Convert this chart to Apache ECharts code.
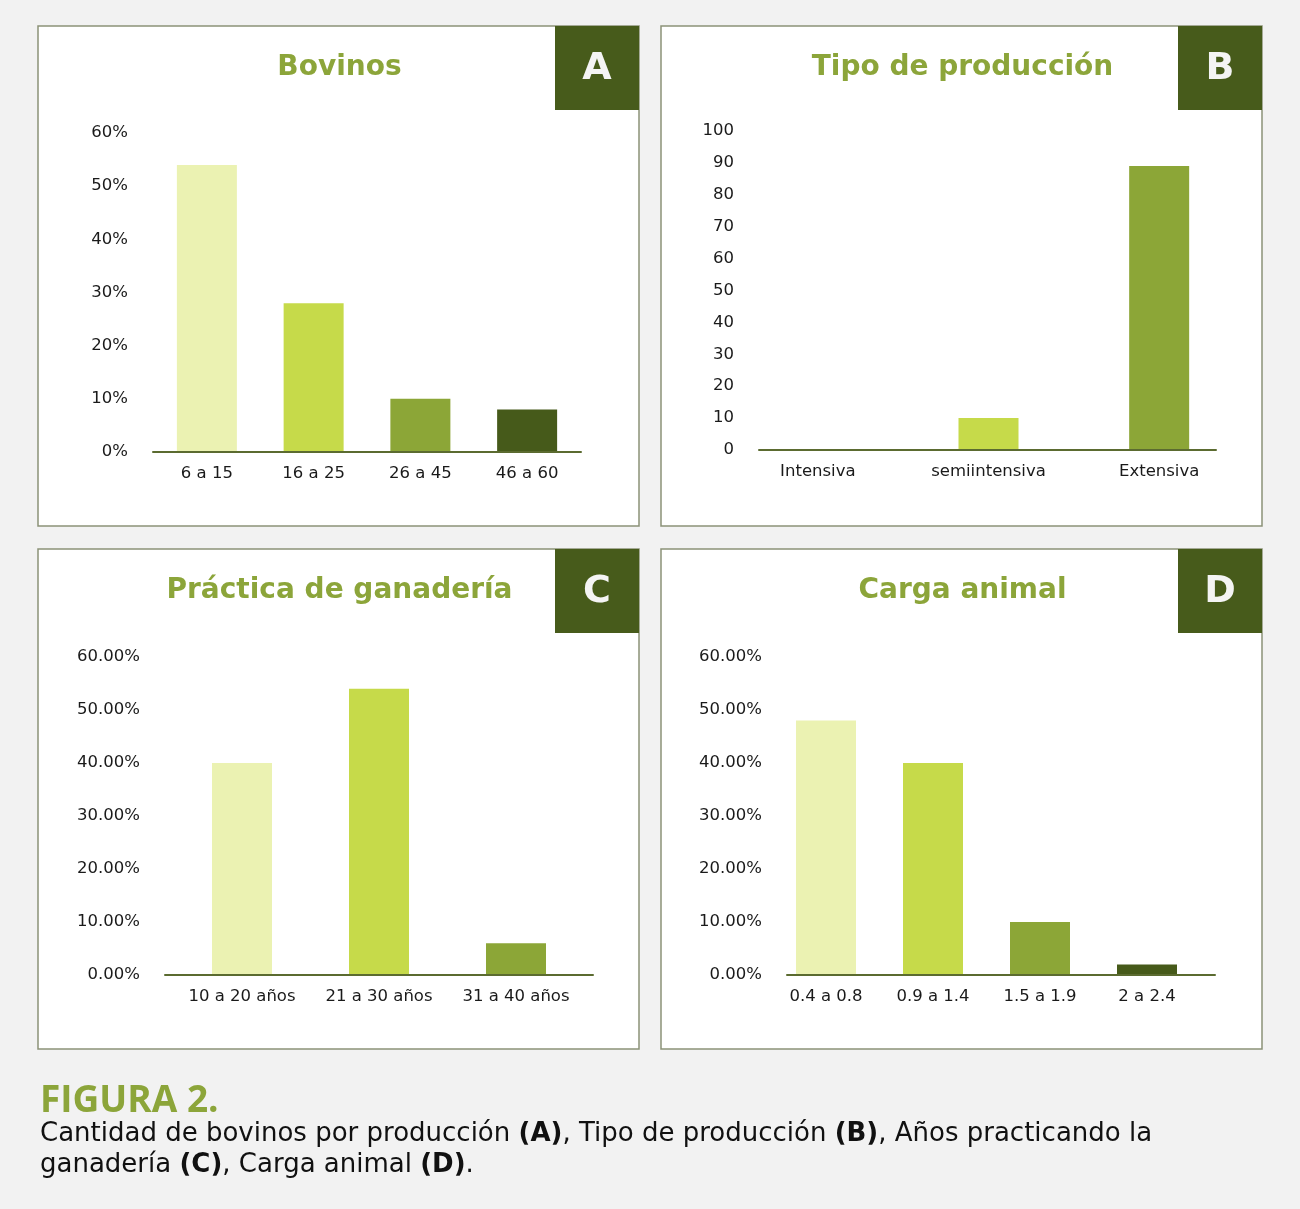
<!DOCTYPE html>
<html>
<head>
<meta charset="utf-8">
<script src="https://cdn.jsdelivr.net/npm/echarts@6/dist/echarts.min.js"></script>
<style>
  html, body { margin: 0; padding: 0; background: #f2f2f2; }
  #main { width: 1300px; height: 1209px; }
</style>
</head>
<body>
<div id="main"></div>
<script>
// datos
var bovCats = ['6 a 15', '16 a 25', '26 a 45', '46 a 60'];
var bovVals = [54, 28, 10, 8];
var tipoCats = ['Intensiva', 'semiintensiva', 'Extensiva'];
var tipoVals = [0, 10, 89];
var pracCats = ['10 a 20 años', '21 a 30 años', '31 a 40 años'];
var pracVals = [40, 54, 6];
var cargaCats = ['0.4 a 0.8', '0.9 a 1.4', '1.5 a 1.9', '2 a 2.4'];
var cargaVals = [48, 40, 10, 2];

var titles = ['Bovinos', 'Tipo de producción', 'Práctica de ganadería', 'Carga animal'];
var letters = ['A', 'B', 'C', 'D'];

var barColors = ['#ebf2b2', '#c6da4a', '#8ca637', '#465a1a'];
var titleColor = '#8ca53a';
var badgeColor = '#475b1b';
var font = '"DejaVu Sans", sans-serif';

var chart = echarts.init(document.getElementById('main'));

var grid = [], xAxis = [], yAxis = [], series = [], title = [], graphic = [];

// paneles: x, y de la esquina superior izquierda
var panels = [[38, 26], [661, 26], [38, 549], [661, 549]];
var PW = 601, PH = 500;

panels.forEach(function (p, i) {
    graphic.push({
        type: 'rect', shape: { x: p[0], y: p[1], width: PW, height: PH },
        style: { fill: '#fff', stroke: '#8c9278', lineWidth: 1.5 }, z: 0
    });
    graphic.push({
        type: 'rect', shape: { x: p[0] + PW - 84, y: p[1], width: 84, height: 84 },
        style: { fill: badgeColor }, z: 1
    });
    graphic.push({
        type: 'text', x: p[0] + PW - 42, y: p[1] + 43,
        style: {
            text: letters[i], fill: '#f4f4f4', font: 'bold 38px ' + font,
            textAlign: 'center', textVerticalAlign: 'middle'
        }, z: 2
    });
    title.push({
        text: titles[i], left: p[0] + PW / 2 - 4, top: p[1] + 23, textAlign: 'center',
        textStyle: { color: titleColor, fontSize: 28, fontWeight: 'bold', fontFamily: font }
    });
});

/**
 * agrega un gráfico de barras: un grid para el eje (línea y etiquetas y),
 * otro para las barras y sus categorías
 */
function addChart(cats, vals, frame, bars, top, height, max, interval, fmt) {
    var g = grid.length;
    grid.push({ left: frame[0], width: frame[1], top: top, height: height, containLabel: false });
    grid.push({ left: bars[0], width: bars[1], top: top, height: height, containLabel: false });
    xAxis.push({
        gridIndex: g, type: 'category', data: cats, z: 5,
        axisLine: { show: true, lineStyle: { color: '#5b6b30', width: 2 } },
        axisTick: { show: false }, axisLabel: { show: false }, splitLine: { show: false }
    });
    xAxis.push({
        gridIndex: g + 1, type: 'category', data: cats,
        axisLine: { show: false }, axisTick: { show: false }, splitLine: { show: false },
        axisLabel: { color: '#1a1a1a', fontSize: 16.5, fontFamily: font, margin: 13, interval: 0 }
    });
    yAxis.push({
        gridIndex: g, type: 'value', min: 0, max: max, interval: interval,
        axisLine: { show: false }, axisTick: { show: false }, splitLine: { show: false },
        axisLabel: { color: '#1a1a1a', fontSize: 16.5, fontFamily: font, margin: 25, formatter: fmt }
    });
    yAxis.push({
        gridIndex: g + 1, type: 'value', min: 0, max: max, interval: interval, show: false,
        splitLine: { show: false }
    });
    series.push({
        type: 'bar', xAxisIndex: g + 1, yAxisIndex: g + 1, barWidth: 60,
        data: vals.map(function (v, k) {
            return { value: v, itemStyle: { color: barColors[k] } };
        })
    });
}

function pct0(v) { return v + '%'; }
function pct2(v) { return v.toFixed(2) + '%'; }
function plain(v) { return v; }

addChart(bovCats, bovVals, [153, 428], [153.5, 427], 133, 319, 60, 10, pct0);
addChart(tipoCats, tipoVals, [759, 457], [732.5, 512], 131, 319, 100, 10, plain);
addChart(pracCats, pracVals, [165, 428], [173.5, 411], 657, 318, 60, 10, pct2);
addChart(cargaCats, cargaVals, [787, 428], [772.5, 428], 657, 318, 60, 10, pct2);

// pie de figura
graphic.push({
    type: 'text', x: 40, y: 1101,
    style: {
        text: 'FIGURA 2.', fill: titleColor, font: 'bold 37px "Open Sans", sans-serif',
        textVerticalAlign: 'middle'
    }
});
graphic.push({
    type: 'text', x: 40, y: 1119,
    style: {
        text: 'Cantidad de bovinos por producción {b|(A)}, Tipo de producción {b|(B)}, Años practicando la\n' +
              'ganadería {b|(C)}, Carga animal {b|(D)}.',
        fill: '#111', font: '26px ' + font, lineHeight: 31,
        rich: { b: { fontWeight: 'bold', fontSize: 26, fontFamily: font, fill: '#111', lineHeight: 31 } }
    }
});

chart.setOption({
    backgroundColor: '#f2f2f2',
    animation: false,
    title: title,
    grid: grid,
    xAxis: xAxis,
    yAxis: yAxis,
    series: series,
    graphic: graphic
});
</script>
</body>
</html>
